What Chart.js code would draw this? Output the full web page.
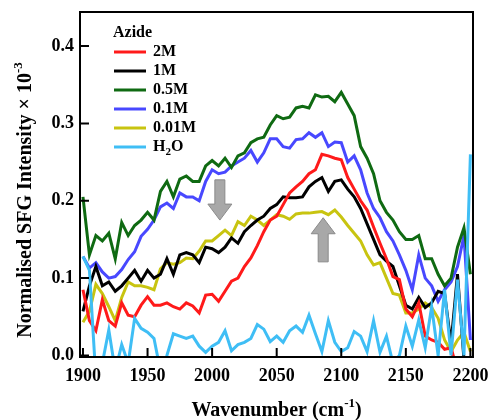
<!DOCTYPE html>
<html>
<head>
<meta charset="utf-8">
<script src="https://cdn.jsdelivr.net/npm/chart.js@4"></script>
<style>
  html, body { margin: 0; padding: 0; background: #fff; }
  #wrap { width: 490px; height: 420px; }
</style>
</head>
<body>
<div id="wrap"><canvas id="sfg"></canvas></div>
<script>
// wavenumber axis (cm-1)
const wavenumber = [
  1900, 1905, 1910, 1915, 1920, 1925, 1930, 1935, 1940, 1945,
  1950, 1955, 1960, 1965, 1970, 1975, 1980, 1985, 1990, 1995,
  2000, 2005, 2010, 2015, 2020, 2025, 2030, 2035, 2040, 2045,
  2050, 2055, 2060, 2065, 2070, 2075, 2080, 2085, 2090, 2095,
  2100, 2105, 2110, 2115, 2120, 2125, 2130, 2135, 2140, 2145,
  2150, 2155, 2160, 2165, 2170, 2175, 2180, 2185, 2190, 2195, 2200
];

const azide2M = [
  0.085, 0.045, 0.032, 0.072, 0.045, 0.038, 0.068, 0.052, 0.050, 0.065,
  0.076, 0.065, 0.065, 0.068, 0.063, 0.060, 0.068, 0.064, 0.055, 0.078,
  0.079, 0.070, 0.083, 0.096, 0.100, 0.115, 0.126, 0.142, 0.160, 0.175,
  0.180, 0.195, 0.210, 0.218, 0.225, 0.235, 0.240, 0.260, 0.258, 0.255,
  0.253, 0.230, 0.215, 0.200, 0.188, 0.166, 0.145, 0.125, 0.102, 0.098,
  0.060, 0.050, 0.068, 0.025, 0.020, 0.017, 0.008, 0.010, -0.020, -0.030, -0.030
];

const azide1M = [
  0.057, 0.090, 0.115, 0.090, 0.095, 0.083, 0.090, 0.100, 0.110, 0.096,
  0.110, 0.100, 0.105, 0.125, 0.105, 0.130, 0.133, 0.130, 0.120, 0.140,
  0.138, 0.133, 0.140, 0.152, 0.145, 0.160, 0.168, 0.175, 0.180, 0.190,
  0.195, 0.205, 0.204, 0.204, 0.205, 0.218, 0.225, 0.230, 0.212, 0.225,
  0.227, 0.215, 0.205, 0.190, 0.170, 0.150, 0.130, 0.122, 0.115, 0.090,
  0.065, 0.060, 0.075, 0.062, 0.068, 0.083, 0.080, 0.015, 0.105, -0.005, -0.010
];

const azide05M = [
  0.205, 0.130, 0.155, 0.148, 0.158, 0.125, 0.172, 0.155, 0.168, 0.175,
  0.185, 0.175, 0.212, 0.225, 0.205, 0.228, 0.232, 0.225, 0.225, 0.245,
  0.252, 0.245, 0.255, 0.243, 0.258, 0.262, 0.275, 0.280, 0.282, 0.298,
  0.310, 0.306, 0.308, 0.320, 0.322, 0.320, 0.337, 0.334, 0.335, 0.328,
  0.340, 0.325, 0.310, 0.270, 0.255, 0.235, 0.200, 0.185, 0.175, 0.160,
  0.150, 0.150, 0.155, 0.125, 0.125, 0.105, 0.090, 0.100, 0.140, 0.165, 0.105
];

const azide01M = [
  0.128, 0.113, 0.120, 0.108, 0.100, 0.102, 0.111, 0.124, 0.134, 0.154,
  0.163, 0.175, 0.192, 0.197, 0.190, 0.210, 0.205, 0.205, 0.200, 0.225,
  0.240, 0.235, 0.237, 0.245, 0.250, 0.255, 0.265, 0.250, 0.262, 0.280,
  0.280, 0.270, 0.268, 0.279, 0.280, 0.288, 0.282, 0.288, 0.270, 0.276,
  0.275, 0.250, 0.258, 0.240, 0.210, 0.190, 0.178, 0.160, 0.148, 0.130,
  0.110, 0.085, 0.130, 0.100, 0.090, 0.070, 0.085, 0.095, 0.115, 0.155, 0.020
];

const azide001M = [
  0.043, 0.057, 0.092, 0.080, 0.063, 0.045, 0.075, 0.095, 0.090, 0.090,
  0.088, 0.085, 0.112, 0.120, 0.118, 0.120, 0.126, 0.125, 0.135, 0.148,
  0.148, 0.155, 0.162, 0.155, 0.173, 0.168, 0.180, 0.175, 0.168, 0.175,
  0.182, 0.180, 0.176, 0.183, 0.184, 0.184, 0.185, 0.186, 0.182, 0.188,
  0.179, 0.168, 0.158, 0.148, 0.130, 0.117, 0.120, 0.100, 0.080, 0.078,
  0.055, 0.055, 0.060, 0.068, 0.062, 0.048, 0.020, 0.005, 0.020, 0.030, 0.005
];

const water = [
  0.128, 0.110, -0.030, -0.010, 0.033, -0.020, 0.014, -0.010, 0.048, 0.035,
  0.030, 0.022, -0.020, 0.000, 0.028, 0.025, 0.022, 0.025, 0.012, 0.004,
  0.012, 0.017, 0.032, 0.006, 0.014, 0.017, 0.022, 0.040, 0.034, 0.018,
  0.025, 0.017, 0.032, 0.038, 0.030, 0.052, 0.028, 0.005, 0.045, 0.017,
  0.005, 0.010, 0.031, 0.025, 0.005, 0.045, 0.004, 0.025, -0.010, 0.000,
  0.038, 0.012, 0.046, 0.010, 0.063, 0.000, 0.085, 0.000, 0.098, 0.000, 0.260
];

const seriesLabels = ['2M', '1M', '0.5M', '0.1M', '0.01M', 'H2O'];
const seriesValues = [azide2M, azide1M, azide05M, azide01M, azide001M, water];
const seriesColors = ['#ff1a1a', '#000000', '#0f6a12', '#4848ff', '#c8c410', '#3fbef5'];

const xTicks = [1900, 1950, 2000, 2050, 2100, 2150, 2200];
const yTicks = [0.0, 0.1, 0.2, 0.3, 0.4];

// grey arrows marking the peak shifts (wavenumber, tail value, tip value)
const arrowX = [2006, 2086];
const arrowFrom = [0.227, 0.121];
const arrowTo = [0.175, 0.178];

const SERIF = '"Liberation Serif", "Times New Roman", serif';

const datasets = seriesLabels.map((label, i) => ({
  label: label,
  data: wavenumber.map((w, j) => ({ x: w, y: seriesValues[i][j] })),
  borderColor: seriesColors[i],
  backgroundColor: seriesColors[i],
  borderWidth: 3,
  pointRadius: 0,
  tension: 0,
  order: label === 'H2O' ? 0 : 1
}));

// text with a raised/lowered small part, e.g. cm^-1
function drawRich(ctx, parts, x, y, align) {
  let total = 0;
  parts.forEach(p => { ctx.font = p.font; total += ctx.measureText(p.text).width; });
  let cx = align === 'center' ? x - total / 2 : x;
  parts.forEach(p => {
    ctx.font = p.font;
    ctx.fillText(p.text, cx, y + (p.dy || 0));
    cx += ctx.measureText(p.text).width;
  });
}

const framePlugin = {
  id: 'frame',
  afterDraw(chart) {
    const { ctx, chartArea: a, scales } = chart;
    ctx.save();
    ctx.strokeStyle = '#000';
    ctx.lineWidth = 2;
    ctx.strokeRect(a.left, a.top, a.right - a.left, a.bottom - a.top);

    // inward tick marks
    ctx.beginPath();
    xTicks.forEach(v => {
      const px = scales.x.getPixelForValue(v);
      ctx.moveTo(px, a.bottom);
      ctx.lineTo(px, a.bottom - 9);
    });
    yTicks.forEach(v => {
      const py = scales.y.getPixelForValue(v);
      ctx.moveTo(a.left, py);
      ctx.lineTo(a.left + 9, py);
    });
    ctx.stroke();

    // axis titles
    ctx.fillStyle = '#000';
    ctx.textBaseline = 'alphabetic';
    const big = 'bold 20px ' + SERIF;
    const small = 'bold 13px ' + SERIF;
    drawRich(ctx, [
      { text: 'Wavenumber (cm', font: big },
      { text: '-1', font: small, dy: -9 },
      { text: ')', font: big }
    ], (a.left + a.right) / 2, 416, 'center');

    ctx.translate(31, 200);
    ctx.rotate(-Math.PI / 2);
    drawRich(ctx, [
      { text: 'Normalised SFG Intensity \u00d7 10', font: big },
      { text: '-3', font: small, dy: -9 }
    ], 0, 0, 'center');
    ctx.restore();
  }
};

const arrowPlugin = {
  id: 'arrows',
  afterDatasetsDraw(chart) {
    const { ctx, scales } = chart;
    ctx.save();
    ctx.fillStyle = '#a8a8a8';
    ctx.strokeStyle = '#8a8a8a';
    ctx.lineWidth = 1;
    arrowX.forEach((w, i) => {
      const cx = scales.x.getPixelForValue(w);
      const y0 = scales.y.getPixelForValue(arrowFrom[i]);
      const y1 = scales.y.getPixelForValue(arrowTo[i]);
      const dir = y1 > y0 ? 1 : -1;
      const head = 16, half = 5, wing = 12;
      const yb = y1 - dir * head;
      ctx.beginPath();
      ctx.moveTo(cx - half, y0);
      ctx.lineTo(cx + half, y0);
      ctx.lineTo(cx + half, yb);
      ctx.lineTo(cx + wing, yb);
      ctx.lineTo(cx, y1);
      ctx.lineTo(cx - wing, yb);
      ctx.lineTo(cx - half, yb);
      ctx.closePath();
      ctx.fill();
      ctx.stroke();
    });
    ctx.restore();
  }
};

const legendPlugin = {
  id: 'insideLegend',
  afterDraw(chart) {
    const { ctx, chartArea: a } = chart;
    ctx.save();
    ctx.fillStyle = '#000';
    ctx.textBaseline = 'middle';
    ctx.font = 'bold 16px ' + SERIF;
    ctx.fillText('Azide', a.left + 33, a.top + 21);
    seriesLabels.forEach((label, i) => {
      const y = a.top + 40 + i * 19;
      ctx.strokeStyle = seriesColors[i];
      ctx.lineWidth = 3;
      ctx.beginPath();
      ctx.moveTo(a.left + 34, y);
      ctx.lineTo(a.left + 66, y);
      ctx.stroke();
      ctx.fillStyle = '#000';
      const tx = a.left + 73;
      if (label === 'H2O') {
        ctx.font = 'bold 16px ' + SERIF;
        ctx.fillText('H', tx, y);
        let w = ctx.measureText('H').width;
        ctx.font = 'bold 11px ' + SERIF;
        ctx.fillText('2', tx + w, y + 5);
        w += ctx.measureText('2').width;
        ctx.font = 'bold 16px ' + SERIF;
        ctx.fillText('O', tx + w, y);
      } else {
        ctx.font = 'bold 16px ' + SERIF;
        ctx.fillText(label, tx, y);
      }
    });
    ctx.restore();
  }
};

new Chart(document.getElementById('sfg'), {
  type: 'line',
  data: { datasets: datasets },
  options: {
    responsive: true,
    maintainAspectRatio: false,
    animation: false,
    layout: { padding: { top: 12, right: 17, left: 0, bottom: 0 } },
    plugins: {
      legend: { display: false },
      tooltip: { enabled: false }
    },
    scales: {
      x: {
        type: 'linear',
        min: 1897.7,
        max: 2202,
        afterFit: s => { s.height = 63; s.paddingLeft = 0; s.paddingRight = 0; },
        afterBuildTicks: s => { s.ticks = xTicks.map(v => ({ value: v })); },
        grid: { display: false, drawTicks: false },
        border: { display: false },
        ticks: {
          padding: 9,
          color: '#000',
          font: { family: SERIF, size: 18, weight: 'bold' },
          callback: v => String(v)
        }
      },
      y: {
        min: -0.002,
        max: 0.444,
        afterFit: s => { s.width = 80; s.paddingTop = 0; s.paddingBottom = 0; },
        afterBuildTicks: s => { s.ticks = yTicks.map(v => ({ value: v })); },
        grid: { display: false, drawTicks: false },
        border: { display: false },
        ticks: {
          padding: 6,
          color: '#000',
          font: { family: SERIF, size: 18, weight: 'bold' },
          callback: v => Number(v).toFixed(1)
        }
      }
    }
  },
  plugins: [arrowPlugin, framePlugin, legendPlugin]
});
</script>
</body>
</html>
